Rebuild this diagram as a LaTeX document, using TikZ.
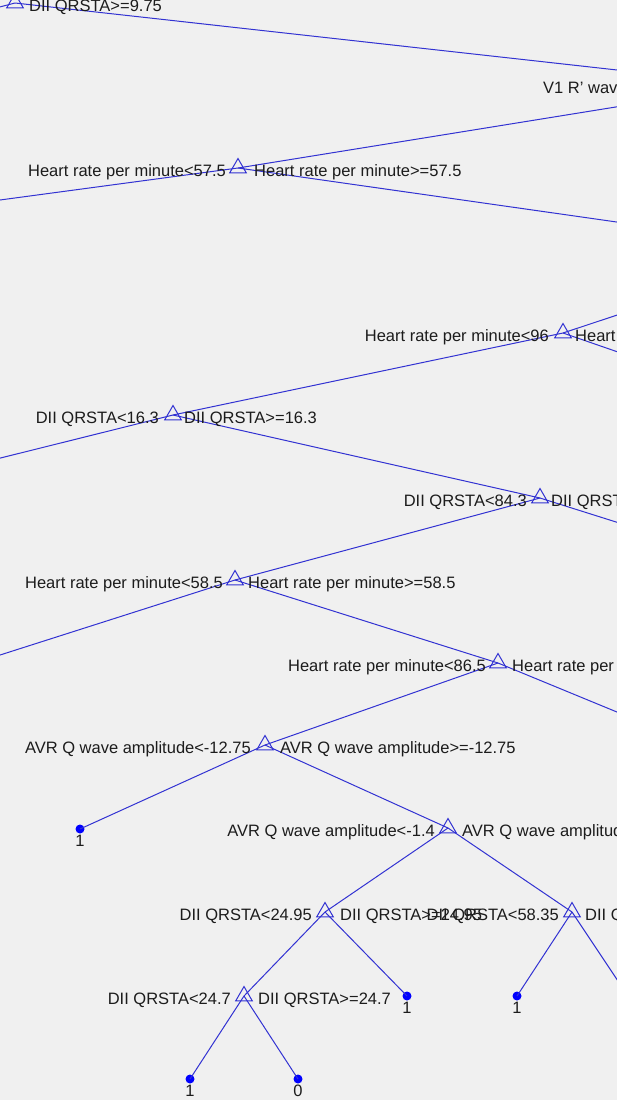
\documentclass[tikz,border=0pt]{standalone}
\usepackage{fontspec}
\setmainfont{Liberation Sans}
\usetikzlibrary{shapes.geometric}
\definecolor{bg}{RGB}{240,240,240}
\definecolor{edgec}{RGB}{50,50,210}
\definecolor{leafc}{RGB}{0,0,255}
\definecolor{txt}{RGB}{28,28,28}
\begin{document}
\begin{tikzpicture}[x=1pt,y=-1pt,
  split/.style={regular polygon, regular polygon sides=3, draw=edgec, line width=1pt, minimum size=19pt, inner sep=0pt},
  leaf/.style={circle, fill=leafc, minimum size=9pt, inner sep=0pt},
  edge/.style={draw=edgec, line width=1pt},
  lab/.style={font=\fontsize{16.5}{18}\selectfont, text=txt, inner sep=0pt},
  ll/.style={lab, anchor=base east},
  rl/.style={lab, anchor=base west},
  cls/.style={lab, anchor=north}]
\useasboundingbox (0,0) rectangle (617,1100);
\fill[bg] (0,0) rectangle (617,1100);
\clip (0,0) rectangle (617,1100);
% split nodes
\node[split] (A) at (15,3) {};
\coordinate (B) at (752,85);
\node[split] (C) at (238,168) {};
\coordinate (D) at (813,250);
\node[split] (E) at (563,333) {};
\coordinate (F) at (800,415);
\node[split] (G) at (173,415) {};
\node[split] (I) at (540,498) {};
\coordinate (Ir) at (800,580);
\node[split] (J) at (235,580) {};
\coordinate (Jl) at (-25,663);
\node[split] (K) at (498,663) {};
\coordinate (Kr) at (697,745);
\node[split] (L) at (265,745) {};
\node[split] (M) at (448,828) {};
\node[split] (N) at (325,912) {};
\node[split] (O) at (572,912) {};
\coordinate (Or) at (628,996);
\node[split] (P) at (244,996) {};
\coordinate (Al) at (-300,85);
\coordinate (Cl) at (-372,250);
\coordinate (Gl) at (-160,498);
% leaves
\node[leaf] (lL) at (80,829) {};
\node[leaf] (lN) at (407,996) {};
\node[leaf] (lO) at (517,996) {};
\node[leaf] (lP1) at (190,1079) {};
\node[leaf] (lP0) at (298,1079) {};
% edges
\draw[edge] (A.center) -- (Al);
\draw[edge] (A.center) -- (B);
\draw[edge] (B) -- (C.center);
\draw[edge] (C.center) -- (Cl);
\draw[edge] (C.center) -- (D);
\draw[edge] (D) -- (E.center);
\draw[edge] (E.center) -- (F);
\draw[edge] (E.center) -- (G.center);
\draw[edge] (G.center) -- (Gl);
\draw[edge] (G.center) -- (I.center);
\draw[edge] (I.center) -- (Ir);
\draw[edge] (I.center) -- (J.center);
\draw[edge] (J.center) -- (Jl);
\draw[edge] (J.center) -- (K.center);
\draw[edge] (K.center) -- (Kr);
\draw[edge] (K.center) -- (L.center);
\draw[edge] (L.center) -- (lL.center);
\draw[edge] (L.center) -- (M.center);
\draw[edge] (M.center) -- (N.center);
\draw[edge] (M.center) -- (O.center);
\draw[edge] (N.center) -- (P.center);
\draw[edge] (N.center) -- (lN.center);
\draw[edge] (O.center) -- (lO.center);
\draw[edge] (O.center) -- (Or);
\draw[edge] (P.center) -- (lP1.center);
\draw[edge] (P.center) -- (lP0.center);
% labels
\node[rl] (tAr) at ([xshift=14pt,yshift=-8pt]A.center) {DII QRSTA>=9.75};
\node[lab, anchor=base west] (tBl) at ([xshift=-209pt,yshift=-8pt]B) {V1 R' wave};
\node[ll] (tCl) at ([xshift=-12pt,yshift=-8pt]C.center) {Heart rate per minute<57.5};
\node[rl] (tCr) at ([xshift=16pt,yshift=-8pt]C.center) {Heart rate per minute>=57.5};
\node[ll] (tEl) at ([xshift=-14pt,yshift=-8pt]E.center) {Heart rate per minute<96};
\node[rl] (tEr) at ([xshift=12pt,yshift=-8pt]E.center) {Heart rate per minute>=96};
\node[ll] (tGl) at ([xshift=-14pt,yshift=-8pt]G.center) {DII QRSTA<16.3};
\node[rl] (tGr) at ([xshift=11pt,yshift=-8pt]G.center) {DII QRSTA>=16.3};
\node[ll] (tIl) at ([xshift=-13pt,yshift=-8pt]I.center) {DII QRSTA<84.3};
\node[rl] (tIr) at ([xshift=11pt,yshift=-8pt]I.center) {DII QRSTA>=84.3};
\node[ll] (tJl) at ([xshift=-12pt,yshift=-8pt]J.center) {Heart rate per minute<58.5};
\node[rl] (tJr) at ([xshift=13pt,yshift=-8pt]J.center) {Heart rate per minute>=58.5};
\node[ll] (tKl) at ([xshift=-12pt,yshift=-8pt]K.center) {Heart rate per minute<86.5};
\node[rl] (tKr) at ([xshift=14pt,yshift=-8pt]K.center) {Heart rate per minute>=86.5};
\node[ll] (tLl) at ([xshift=-14pt,yshift=-8pt]L.center) {AVR Q wave amplitude<-12.75};
\node[rl] (tLr) at ([xshift=15pt,yshift=-8pt]L.center) {AVR Q wave amplitude>=-12.75};
\node[ll] (tMl) at ([xshift=-13pt,yshift=-8pt]M.center) {AVR Q wave amplitude<-1.4};
\node[rl] (tMr) at ([xshift=14pt,yshift=-8pt]M.center) {AVR Q wave amplitude>=-1.4};
\node[ll] (tNl) at ([xshift=-13pt,yshift=-8pt]N.center) {DII QRSTA<24.95};
\node[rl] (tNr) at ([xshift=15pt,yshift=-8pt]N.center) {DII QRSTA>=24.95};
\node[ll] (tOl) at ([xshift=-13pt,yshift=-8pt]O.center) {DII QRSTA<58.35};
\node[rl] (tOr) at ([xshift=13pt,yshift=-8pt]O.center) {DII QRSTA>=58.35};
\node[ll] (tPl) at ([xshift=-13pt,yshift=-8pt]P.center) {DII QRSTA<24.7};
\node[rl] (tPr) at ([xshift=14pt,yshift=-8pt]P.center) {DII QRSTA>=24.7};
% class labels
\node[cls] (cL) at ([yshift=-6pt]lL.center) {1};
\node[cls] (cN) at ([yshift=-6pt]lN.center) {1};
\node[cls] (cO) at ([yshift=-6pt]lO.center) {1};
\node[cls] (cP1) at ([yshift=-6pt]lP1.center) {1};
\node[cls] (cP0) at ([yshift=-6pt]lP0.center) {0};
\end{tikzpicture}
\end{document}
